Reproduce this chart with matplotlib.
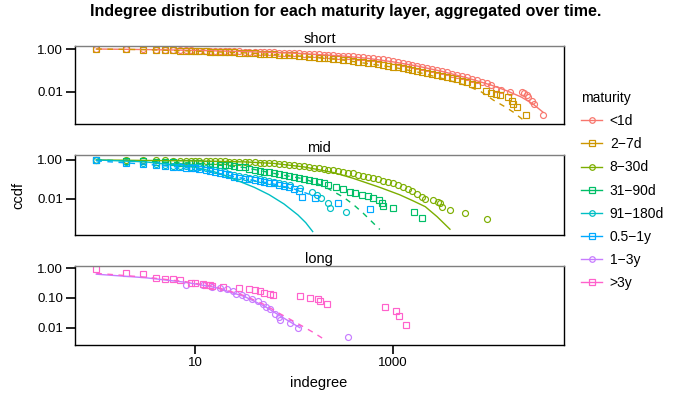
import matplotlib.pyplot as plt
from matplotlib.lines import Line2D
from matplotlib.ticker import NullLocator

plt.rcParams['font.family'] = ['Liberation Sans', 'DejaVu Sans']

maturity = ["<1d", "2\u22127d", "8\u221230d", "31\u221290d", "91\u2212180d", "0.5\u22121y", "1\u22123y", ">3y"]
colors = ['#F8766D', '#CD9600', '#7CAE00', '#00BE67', '#00BFC4', '#00A9FF', '#C77CFF', '#FF61CC']
markers = ['o', 's', 'o', 's', 'o', 's', 'o', 's']
styles = ['-', (0, (4, 4))] * 4

# degree values where the dense part of each ccdf was read
deg_grid = [1, 2, 3, 4, 5, 6, 7, 8, 9, 10, 11, 13, 14, 16, 18, 20, 22, 25, 28, 32,
            35, 40, 45, 50, 56, 63, 71, 79, 89, 100, 112, 126, 141, 158, 178, 200,
            224, 251, 282, 316, 355, 398, 447, 501, 562, 631, 708, 794, 891, 1000,
            1122, 1259, 1413, 1585, 1778, 1995, 2239, 2512, 2818, 3162, 3548, 3981,
            4467, 5012, 5623, 6310, 7079, 7943, 8913, 10000]

# short
lt1d_ccdf = [1.0, 0.973, 0.955, 0.933, 0.912, 0.895, 0.881, 0.871, 0.861, 0.851,
             0.841, 0.832, 0.822, 0.813, 0.804, 0.794, 0.785, 0.776, 0.767, 0.759,
             0.746, 0.735, 0.723, 0.711, 0.700, 0.689, 0.678, 0.667, 0.656, 0.646,
             0.628, 0.612, 0.596, 0.579, 0.565, 0.550, 0.531, 0.513, 0.495, 0.479,
             0.462, 0.447, 0.427, 0.407, 0.385, 0.363, 0.347, 0.324, 0.295, 0.266,
             0.240, 0.216, 0.195, 0.176, 0.158, 0.143, 0.129, 0.115, 0.102, 0.0912,
             0.0794, 0.0700, 0.0617, 0.0543, 0.0462, 0.0394, 0.0335, 0.0288, 0.0245, 0.0209]
lt1d_tail_deg = [11000, 12600, 15500, 20400, 21400, 22900, 23400, 25700, 26900, 33100]
lt1d_tail_ccdf = [0.0138, 0.0115, 0.0095, 0.0093, 0.0089, 0.0071, 0.0056, 0.0035, 0.0025, 0.00083]
lt1d_fit_deg = [1, 3.16, 10, 31.6, 100, 316, 562, 1000, 1778, 3162, 5623, 10000, 14125, 19953, 26303, 33113]
lt1d_fit_ccdf = [1.0, 0.944, 0.861, 0.759, 0.638, 0.468, 0.363, 0.251, 0.158, 0.0891, 0.0447,
                 0.020, 0.0112, 0.00562, 0.00263, 0.0011]

d2_7_ccdf = [1.0, 0.959, 0.933, 0.902, 0.875, 0.855, 0.836, 0.820, 0.805, 0.794,
             0.780, 0.766, 0.752, 0.738, 0.724, 0.711, 0.698, 0.686, 0.673, 0.661,
             0.643, 0.625, 0.608, 0.592, 0.575, 0.560, 0.545, 0.530, 0.515, 0.501,
             0.479, 0.457, 0.437, 0.417, 0.398, 0.380, 0.361, 0.341, 0.324, 0.307,
             0.290, 0.275, 0.257, 0.240, 0.224, 0.209, 0.195, 0.182, 0.166, 0.151,
             0.138, 0.124, 0.112, 0.101, 0.0912, 0.0822, 0.0741, 0.0661, 0.0589, 0.0525,
             0.0468, 0.0417, 0.0372, 0.0324, 0.0275, 0.0234, 0.0200]
d2_7_tail_deg = [8710, 10000, 11200, 12300, 14800, 16200, 16600, 18200, 22400]
d2_7_tail_ccdf = [0.0102, 0.0089, 0.0079, 0.0071, 0.0056, 0.0035, 0.0027, 0.0019, 0.00083]
d2_7_fit_deg = [1, 3.16, 10, 31.6, 100, 316, 1000, 1778, 3162, 5623, 7943, 10471, 13804, 16596, 22387]
d2_7_fit_ccdf = [1.0, 0.933, 0.794, 0.661, 0.490, 0.302, 0.141, 0.0832, 0.0417, 0.0191,
                 0.00955, 0.00398, 0.00191, 0.0011, 0.00037]

# mid
d8_30_ccdf = [1.0, 0.977, 0.966, 0.955, 0.944, 0.933, 0.923, 0.912, 0.902, 0.891,
              0.881, 0.871, 0.861, 0.851, 0.841, 0.832, 0.822, 0.813, 0.804, 0.794,
              0.773, 0.753, 0.733, 0.713, 0.695, 0.676, 0.635, 0.598, 0.562, 0.528,
              0.498, 0.468, 0.434, 0.401, 0.372, 0.344, 0.318, 0.295, 0.267, 0.243,
              0.220, 0.200, 0.175, 0.153, 0.134, 0.117, 0.100, 0.0861, 0.0736, 0.0631,
              0.0513, 0.0417, 0.0324, 0.0251, 0.0178, 0.0126]
d8_30_tail_deg = [2140, 2570, 2880, 3020, 3160, 3800, 5370, 8910]
d8_30_tail_ccdf = [0.0091, 0.0083, 0.0069, 0.0056, 0.0038, 0.0026, 0.0017, 0.00085]
d8_30_fit_deg = [1, 10, 31.6, 63.1, 126, 251, 398, 741, 1175, 1585, 2138, 2818, 3802]
d8_30_fit_ccdf = [1.0, 0.891, 0.794, 0.661, 0.437, 0.224, 0.112, 0.038, 0.0158, 0.0079,
                  0.0038, 0.00115, 0.000257]

d31_90_ccdf = [1.0, 0.891, 0.832, 0.804, 0.776, 0.755, 0.736, 0.721, 0.706, 0.692,
               0.668, 0.646, 0.624, 0.603, 0.575, 0.550, 0.525, 0.495, 0.457, 0.407,
               0.359, 0.316, 0.282, 0.251, 0.224, 0.200, 0.180, 0.162, 0.146, 0.132,
               0.119, 0.107, 0.0955, 0.0822, 0.0708, 0.0603]
d31_90_tail_deg = [224, 269, 316, 372, 417, 490, 562, 631, 724, 776, 794, 1000, 1660, 1995]
d31_90_tail_ccdf = [0.0501, 0.0417, 0.0302, 0.0229, 0.0204, 0.0155, 0.0135, 0.0105, 0.0085,
                    0.0058, 0.0042, 0.0032, 0.0021, 0.00102]
d31_90_fit_deg = [1, 3.16, 10, 31.6, 63.1, 126, 158, 200, 234, 316, 398, 501, 631, 741]
d31_90_fit_ccdf = [1.0, 0.832, 0.692, 0.407, 0.2, 0.105, 0.0708, 0.0437, 0.0282, 0.012,
                   0.005, 0.00178, 0.00056, 0.00025]

d91_180_ccdf = [1.0, 0.759, 0.692, 0.603, 0.550, 0.513, 0.490, 0.468, 0.452, 0.437,
                0.407, 0.372, 0.343, 0.316, 0.269, 0.229, 0.195, 0.166, 0.145, 0.132,
                0.120, 0.110, 0.100, 0.0912, 0.0832, 0.0759, 0.0676, 0.0589]
d91_180_tail_deg = [91, 115, 151, 170, 186, 219, 234, 339]
d91_180_tail_ccdf = [0.0501, 0.0339, 0.0229, 0.0155, 0.0105, 0.0062, 0.0032, 0.0019]
d91_180_fit_deg = [1, 3.16, 10, 15.8, 26.3, 39.8, 56.2, 79.4, 110, 132, 155]
d91_180_fit_ccdf = [1.0, 0.794, 0.417, 0.240, 0.0891, 0.038, 0.0158, 0.00525, 0.00141,
                    0.00056, 0.000195]

y05_1_ccdf = [1.0, 0.676, 0.617, 0.537, 0.490, 0.447, 0.417, 0.398, 0.380, 0.363,
              0.339, 0.316, 0.282, 0.251, 0.219, 0.191, 0.162, 0.138, 0.117, 0.107,
              0.0977, 0.0891, 0.0813, 0.0741, 0.0661, 0.0603, 0.0525, 0.0447, 0.0380, 0.0316,
              0.0251]
y05_1_tail_deg = [120, 162, 282, 589]
y05_1_tail_ccdf = [0.0126, 0.0105, 0.0058, 0.0028]
y05_1_fit_deg = [1, 3.16, 10, 31.6, 63.1, 100, 158]
y05_1_fit_ccdf = [0.891, 0.603, 0.363, 0.107, 0.0562, 0.0316, 0.0141]

# long
y1_3_deg = [8, 12, 15, 18, 21, 24, 26, 30, 33, 38, 43, 49, 52, 57, 65, 70, 72, 92, 110, 356]
y1_3_ccdf = [0.275, 0.27, 0.235, 0.22, 0.195, 0.17, 0.138, 0.123, 0.107, 0.091, 0.078,
             0.065, 0.05, 0.044, 0.030, 0.023, 0.018, 0.0148, 0.0098, 0.0049]
y1_3_fit_deg = [1, 3.16, 7.94, 15.8, 31.6, 50.1, 72.4, 115]
y1_3_fit_ccdf = [0.631, 0.479, 0.339, 0.229, 0.112, 0.0537, 0.0251, 0.01]

y3_deg = [1, 2, 3, 4, 5, 6, 7, 9, 10, 12, 13, 14, 15, 19, 28, 35, 40, 45, 50, 57, 62,
          116, 144, 175, 184, 215, 830, 1070, 1150, 1350]
y3_ccdf = [0.93, 0.68, 0.62, 0.48, 0.44, 0.43, 0.40, 0.33, 0.31, 0.30, 0.28, 0.27, 0.26,
           0.23, 0.22, 0.20, 0.19, 0.17, 0.15, 0.14, 0.13, 0.115, 0.10, 0.091, 0.078,
           0.065, 0.051, 0.037, 0.025, 0.012]
y3_fit_deg = [1, 3.16, 7.94, 15.8, 31.6, 50.1, 72.4, 115, 158, 214]
y3_fit_ccdf = [0.676, 0.501, 0.355, 0.240, 0.120, 0.0603, 0.0295, 0.0126, 0.0069, 0.00363]

points = [
    (deg_grid[:len(lt1d_ccdf)] + lt1d_tail_deg, lt1d_ccdf + lt1d_tail_ccdf),
    (deg_grid[:len(d2_7_ccdf)] + d2_7_tail_deg, d2_7_ccdf + d2_7_tail_ccdf),
    (deg_grid[:len(d8_30_ccdf)] + d8_30_tail_deg, d8_30_ccdf + d8_30_tail_ccdf),
    (deg_grid[:len(d31_90_ccdf)] + d31_90_tail_deg, d31_90_ccdf + d31_90_tail_ccdf),
    (deg_grid[:len(d91_180_ccdf)] + d91_180_tail_deg, d91_180_ccdf + d91_180_tail_ccdf),
    (deg_grid[:len(y05_1_ccdf)] + y05_1_tail_deg, y05_1_ccdf + y05_1_tail_ccdf),
    (y1_3_deg, y1_3_ccdf),
    (y3_deg, y3_ccdf),
]
fits = [
    (lt1d_fit_deg, lt1d_fit_ccdf), (d2_7_fit_deg, d2_7_fit_ccdf),
    (d8_30_fit_deg, d8_30_fit_ccdf), (d31_90_fit_deg, d31_90_fit_ccdf),
    (d91_180_fit_deg, d91_180_fit_ccdf), (y05_1_fit_deg, y05_1_fit_ccdf),
    (y1_3_fit_deg, y1_3_fit_ccdf), (y3_fit_deg, y3_fit_ccdf),
]
panels = [("short", [0, 1]), ("mid", [2, 3, 4, 5]), ("long", [6, 7])]
ylims = [(2.92e-4, 1.43), (1.29e-4, 1.74), (2.63e-3, 1.22)]
yticks = [[1, 0.01], [1, 0.01], [1, 0.1, 0.01]]
yticklabels = [["1.00", "0.01"], ["1.00", "0.01"], ["1.00", "0.10", "0.01"]]

fig = plt.figure(figsize=(6.92, 3.95), dpi=100)
boxes = [[0.108, 0.6853, 0.7071, 0.199],
         [0.108, 0.405, 0.7071, 0.2018],
         [0.108, 0.1266, 0.7071, 0.2008]]

for p, (name, members) in enumerate(panels):
    ax = fig.add_axes(boxes[p])
    for i in members:
        ax.plot(points[i][0], points[i][1], linestyle='none', marker=markers[i], ms=4.3,
                mfc='none', mec=colors[i], mew=0.85)
    for i in members:
        ax.plot(fits[i][0], fits[i][1], color=colors[i], linestyle=styles[i], lw=1.0)
    ax.set_xscale('log')
    ax.set_yscale('log')
    ax.set_xlim(0.605, 54300)
    ax.set_ylim(*ylims[p])
    ax.set_yticks(yticks[p])
    ax.set_yticklabels(yticklabels[p])
    ax.yaxis.set_minor_locator(NullLocator())
    ax.xaxis.set_minor_locator(NullLocator())
    if p == 2:
        ax.set_xticks([10, 1000])
        ax.set_xticklabels(["10", "1000"])
    else:
        ax.set_xticks([])
    ax.tick_params(direction='out', length=6.5, width=1.2, labelsize=9.5, colors='black', pad=2)
    for s in ax.spines.values():
        s.set_linewidth(1.0)
        s.set_color('black')
    ax.spines['top'].set_color('#7f7f7f')
    ax.set_title(name, fontsize=10.5, pad=2)

fig.suptitle("Indegree distribution for each maturity layer, aggregated over time.",
             fontsize=11.5, fontweight='bold', x=0.5, y=0.99)
fig.text(0.026, 0.506, "ccdf", rotation=90, ha='center', va='center', fontsize=10.5)
fig.text(0.461, 0.03, "indegree", ha='center', va='center', fontsize=10.5)

handles = [Line2D([], [], color=colors[i], linestyle='-', lw=1.0, marker=markers[i], ms=4,
                  mfc='none', mec=colors[i], mew=0.9) for i in range(8)]
fig.legend(handles, maturity, title="maturity", loc='upper left',
           bbox_to_anchor=(0.836, 0.777), frameon=False, fontsize=10, title_fontsize=10,
           handlelength=1.5, handletextpad=0.55, labelspacing=0.66, alignment='left',
           borderaxespad=0, borderpad=0.2)

fig.savefig("out.png", dpi=100)
